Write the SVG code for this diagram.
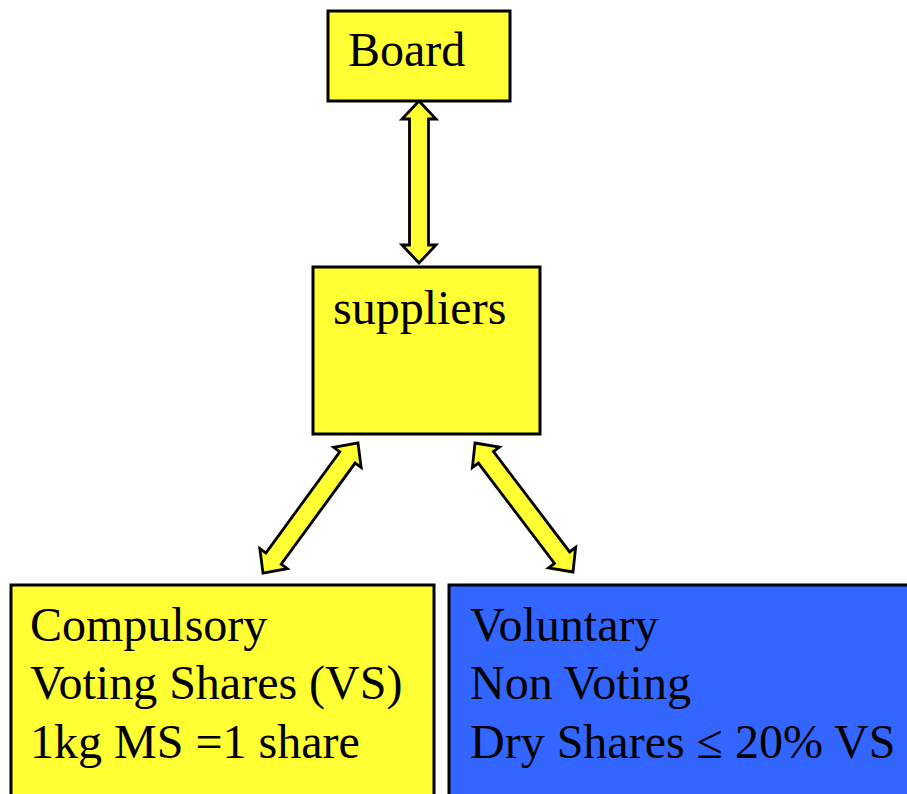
<svg xmlns="http://www.w3.org/2000/svg" width="907" height="794" viewBox="0 0 907 794">
<style>
.box{stroke:#000;stroke-width:3}
.y{fill:#FFFF33}
.b{fill:#3366FF}
.t{font-family:"Liberation Serif","Times New Roman",serif;font-size:48px;fill:#000}
.arr{fill:#FFFF33;stroke:#000;stroke-width:2.8;stroke-linejoin:miter}
</style>
<defs>
<polygon id="dbl" points="0,0 18,-17 18,-9.5 144,-9.5 144,-17 162,0 144,17 144,9.5 18,9.5 18,17"/>
</defs>
<rect width="907" height="794" fill="#fff"/>
<g id="connectors">
<use href="#dbl" class="arr" transform="translate(419,101) rotate(90)"/>
<use href="#dbl" class="arr" transform="translate(358,443) rotate(126.16) scale(0.994,1)"/>
<use href="#dbl" class="arr" transform="translate(475,443) rotate(52.78)"/>
</g>
<g id="board">
<rect class="box y" x="328" y="11" width="182" height="90"/>
<text class="t" x="348" y="66">Board</text>
</g>
<g id="suppliers">
<rect class="box y" x="313" y="267" width="227" height="167"/>
<text class="t" x="333" y="324">suppliers</text>
</g>
<g id="compulsory">
<rect class="box y" x="11" y="585" width="423" height="220"/>
<text class="t" x="30" y="641">Compulsory</text>
<text class="t" x="30" y="699">Voting Shares (VS)</text>
<text class="t" x="30" y="758">1kg MS =1 share</text>
</g>
<g id="voluntary">
<rect class="box b" x="449" y="585" width="470" height="220"/>
<text class="t" x="470" y="641">Voluntary</text>
<text class="t" x="470" y="699">Non Voting</text>
<text class="t" x="470" y="758">Dry Shares ≤ 20% VS</text>
</g>
</svg>
